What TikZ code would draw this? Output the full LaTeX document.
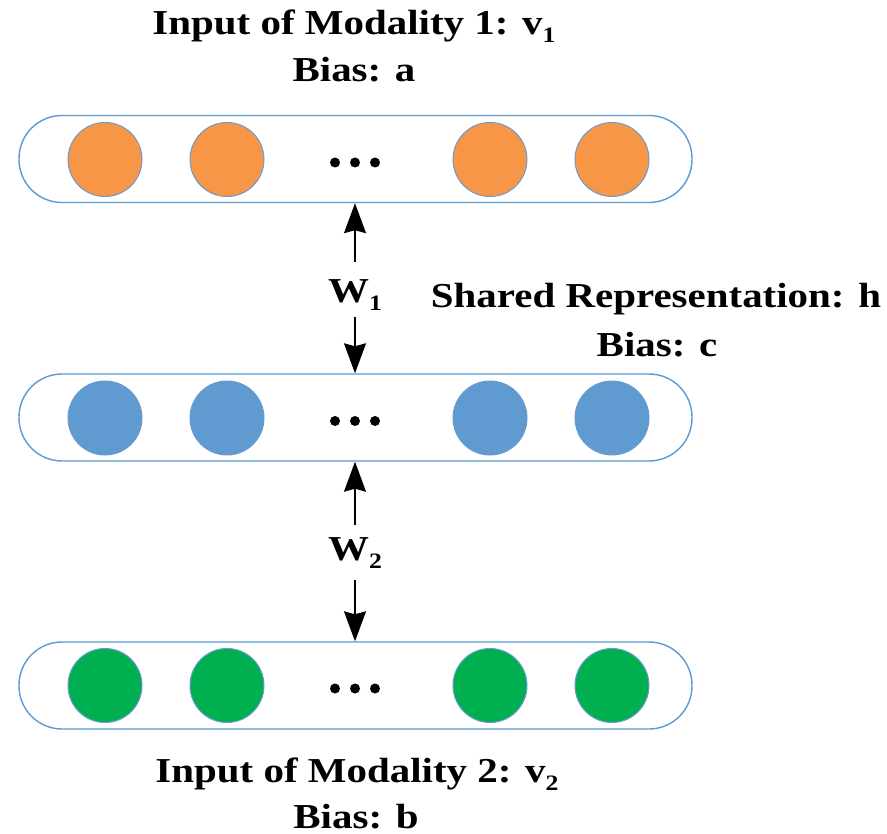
\documentclass[tikz,border=0pt]{standalone}
\usepackage{fontspec}
\usetikzlibrary{arrows.meta}
\newfontfamily\lblfont[FakeStretch=1.17]{Liberation Serif}

\definecolor{pillblue}{HTML}{5B9BD5}
\definecolor{ringblue}{HTML}{6A9AD0}
\definecolor{unitorange}{HTML}{F79646}
\definecolor{unitblue}{HTML}{5F9BD1}
\definecolor{unitgreen}{HTML}{00B050}

% lowered index digit, as in v_1 or W_1
\newcommand\lowidx[1]{\raisebox{-8pt}{\fontsize{22}{22}\selectfont #1}}

\tikzset{
  layer/.style={draw=pillblue, line width=1.4pt, fill=white, rectangle,
    rounded corners=43pt, minimum width=673pt, minimum height=87pt, inner sep=0pt},
  unit/.style={circle, draw=ringblue, line width=1pt, minimum size=74pt, inner sep=0pt},
  dotmark/.style={circle, fill=black, minimum size=10pt, inner sep=0pt},
  lbl/.style={font=\lblfont\bfseries\fontsize{35}{40}\selectfont, inner sep=0pt, anchor=base},
  link/.style={line width=1.5pt, -{Stealth[length=30pt,width=22pt,inset=3pt]}}
}

\begin{document}
\begin{tikzpicture}[x=1pt,y=-1pt]
\useasboundingbox (0,0) rectangle (887,834);

% three layers
\node[layer] (top) at (355.5,159) {};
\node[layer] (mid) at (355.5,417.5) {};
\node[layer] (bot) at (355.5,685.5) {};

% units of each layer
\foreach \lay/\yy/\col in {top/159.5/unitorange, mid/418/unitblue, bot/685.5/unitgreen}{
  \node[unit, fill=\col] (\lay-u1) at (105,\yy) {};
  \node[unit, fill=\col] (\lay-u2) at (227,\yy) {};
  \node[unit, fill=\col] (\lay-u3) at (490,\yy) {};
  \node[unit, fill=\col] (\lay-u4) at (612,\yy) {};
  \node[dotmark] (\lay-d1) at (335,\yy+3) {};
  \node[dotmark] (\lay-d2) at (355,\yy+3) {};
  \node[dotmark] (\lay-d3) at (375,\yy+3) {};
}

% layer captions
\node[lbl] (cap-top) at (354,35) {Input of Modality 1: v\lowidx{1}};
\node[lbl] (bias-a) at (354,82) {Bias: a};
\node[lbl] (cap-mid) at (656,308) {Shared Representation: h};
\node[lbl] (bias-c) at (657,357) {Bias: c};
\node[lbl] (cap-bot) at (357,782) {Input of Modality 2: v\lowidx{2}};
\node[lbl] (bias-b) at (356,828) {Bias: b};

% weight labels and the two-way links
\node[lbl] (w1) at (355,303) {W\lowidx{1}};
\node[lbl] (w2) at (355,560) {W\lowidx{2}};
\coordinate (w1-up) at (355,262);
\coordinate (w1-dn) at (355,317);
\coordinate (w2-up) at (355,525);
\coordinate (w2-dn) at (355,580);

\draw[link] (w1-up) -- (top.south -| w1-up);
\draw[link] (w1-dn) -- (mid.north -| w1-dn);
\draw[link] (w2-up) -- (mid.south -| w2-up);
\draw[link] (w2-dn) -- (bot.north -| w2-dn);
\end{tikzpicture}
\end{document}
